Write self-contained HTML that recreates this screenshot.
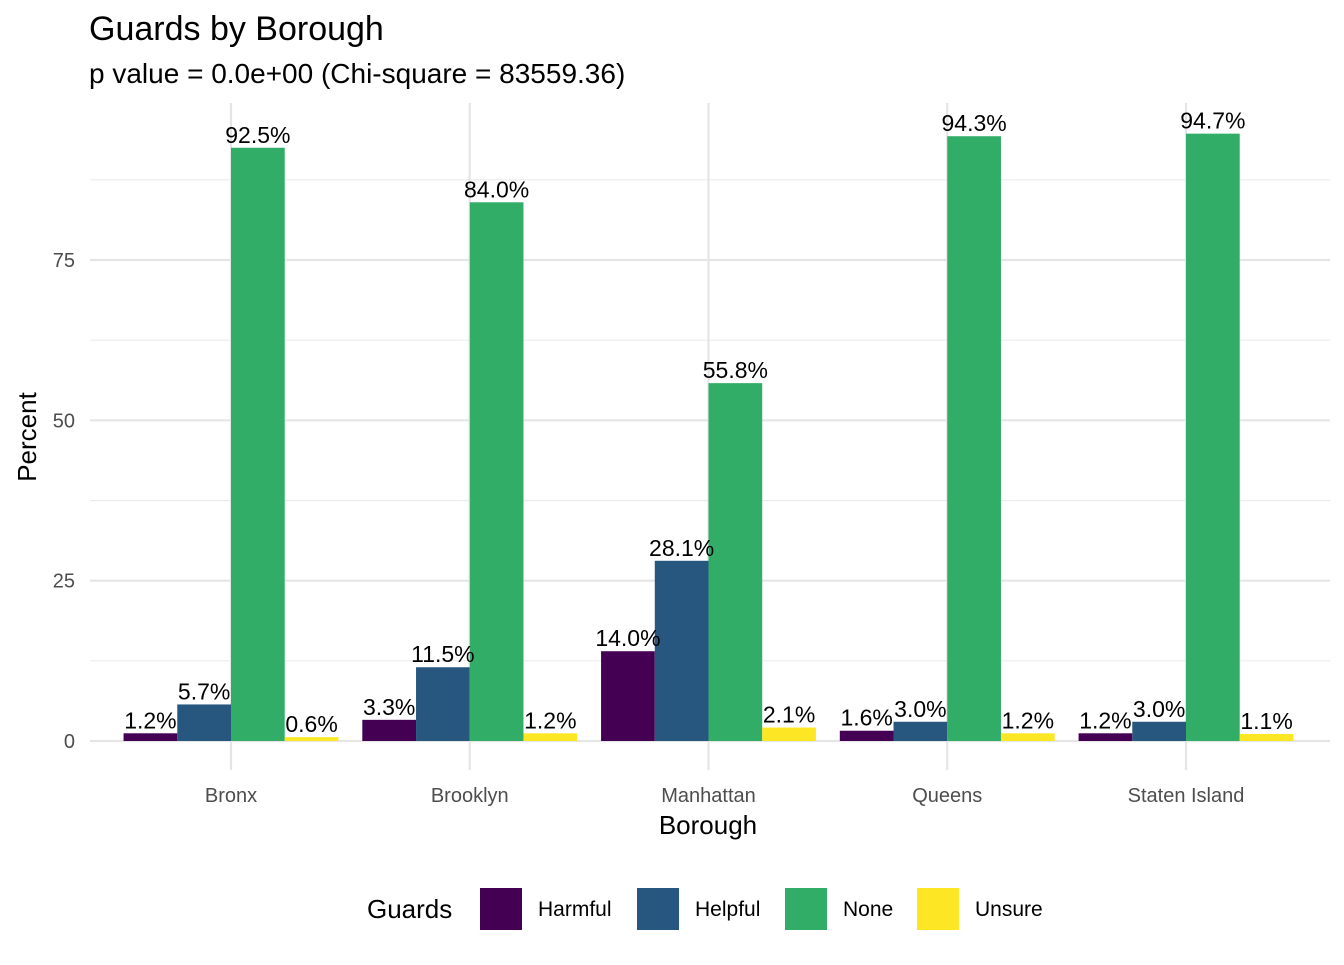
<!DOCTYPE html>
<html><head><meta charset="utf-8"><style>
body{margin:0;background:#fff;font-family:"Liberation Sans",Arial,sans-serif;}
svg text{font-family:"Liberation Sans",Arial,sans-serif;}
</style></head><body>
<svg id="chart" width="1344" height="960">
<text x="89" y="40" font-size="34" fill="#000">Guards by Borough</text>
<text x="89" y="83" font-size="28" fill="#000">p value = 0.0e+00 (Chi-square = 83559.36)</text>
<g id="grid"></g>
<g id="bars"></g>
<g id="labels"></g>
<text transform="translate(36,437) rotate(-90)" text-anchor="middle" font-size="26">Percent</text>
<text x="708" y="834" text-anchor="middle" font-size="26">Borough</text>
<g id="legend">
<text x="367" y="918" font-size="26">Guards</text>
</g>
</svg>
<script>
const categories=["Bronx","Brooklyn","Manhattan","Queens","Staten Island"];
const seriesNames=["Harmful","Helpful","None","Unsure"];
const colors=["#440154","#27577F","#31AD68","#FDE725"];
const harmful=[1.2,3.3,14.0,1.6,1.2];
const helpful=[5.7,11.5,28.1,3.0,3.0];
const none=[92.5,84.0,55.8,94.3,94.7];
const unsure=[0.6,1.2,2.1,1.2,1.1];
const yTicks=[0,25,50,75];
const series=[harmful,helpful,none,unsure];
const NS="http://www.w3.org/2000/svg";
const y0=741, ppu=(741-260)/75;
const y=v=>y0-v*ppu;
const step=238.75, x=i=>231+i*step;
const bw=step*0.9/4;
const pLeft=90,pRight=1330,panelTop=103;
function mk(t,a,p){const e=document.createElementNS(NS,t);for(const k in a)e.setAttribute(k,a[k]);p.appendChild(e);return e;}
const grid=document.getElementById('grid');
for(let v=12.5;y(v)>=panelTop;v+=25){const l=mk('line',{x1:pLeft,x2:pRight,y1:y(v),y2:y(v),stroke:'#ebebeb','stroke-width':1.2},grid);

}
yTicks.forEach(v=>{const l=mk('line',{x1:pLeft,x2:pRight,y1:y(v),y2:y(v),stroke:'#e5e5e5','stroke-width':2.2},grid);


const t=mk('text',{x:75,y:y(v)+7,'text-anchor':'end','font-size':20,fill:'#4d4d4d'},grid);t.textContent=v;

});
categories.forEach((c,i)=>{const l=mk('line',{x1:x(i),x2:x(i),y1:panelTop,y2:770,stroke:'#e5e5e5','stroke-width':2.2},grid);


const t=mk('text',{x:x(i),y:802,'text-anchor':'middle','font-size':20,fill:'#4d4d4d'},grid);t.textContent=c;

});
const bars=document.getElementById('bars'),labels=document.getElementById('labels');
series.forEach((s,j)=>{s.forEach((v,i)=>{const bx=x(i)-2*bw+j*bw;
const r=mk('rect',{x:bx,y:y(v),width:bw,height:y0-y(v),fill:colors[j]},bars);


const t=mk('text',{x:bx+bw/2,y:y(v)-5,'text-anchor':'middle','font-size':23,fill:'#000'},labels);t.textContent=v.toFixed(1)+'%';

});});
const lg=document.getElementById('legend');
const kx=[480,637,785,917];
seriesNames.forEach((n,j)=>{const r=mk('rect',{x:kx[j],y:888,width:42,height:42,fill:colors[j]},lg);


const t=mk('text',{x:kx[j]+58,y:916,'font-size':21,fill:'#000'},lg);t.textContent=n;

});
</script>
</body></html>
